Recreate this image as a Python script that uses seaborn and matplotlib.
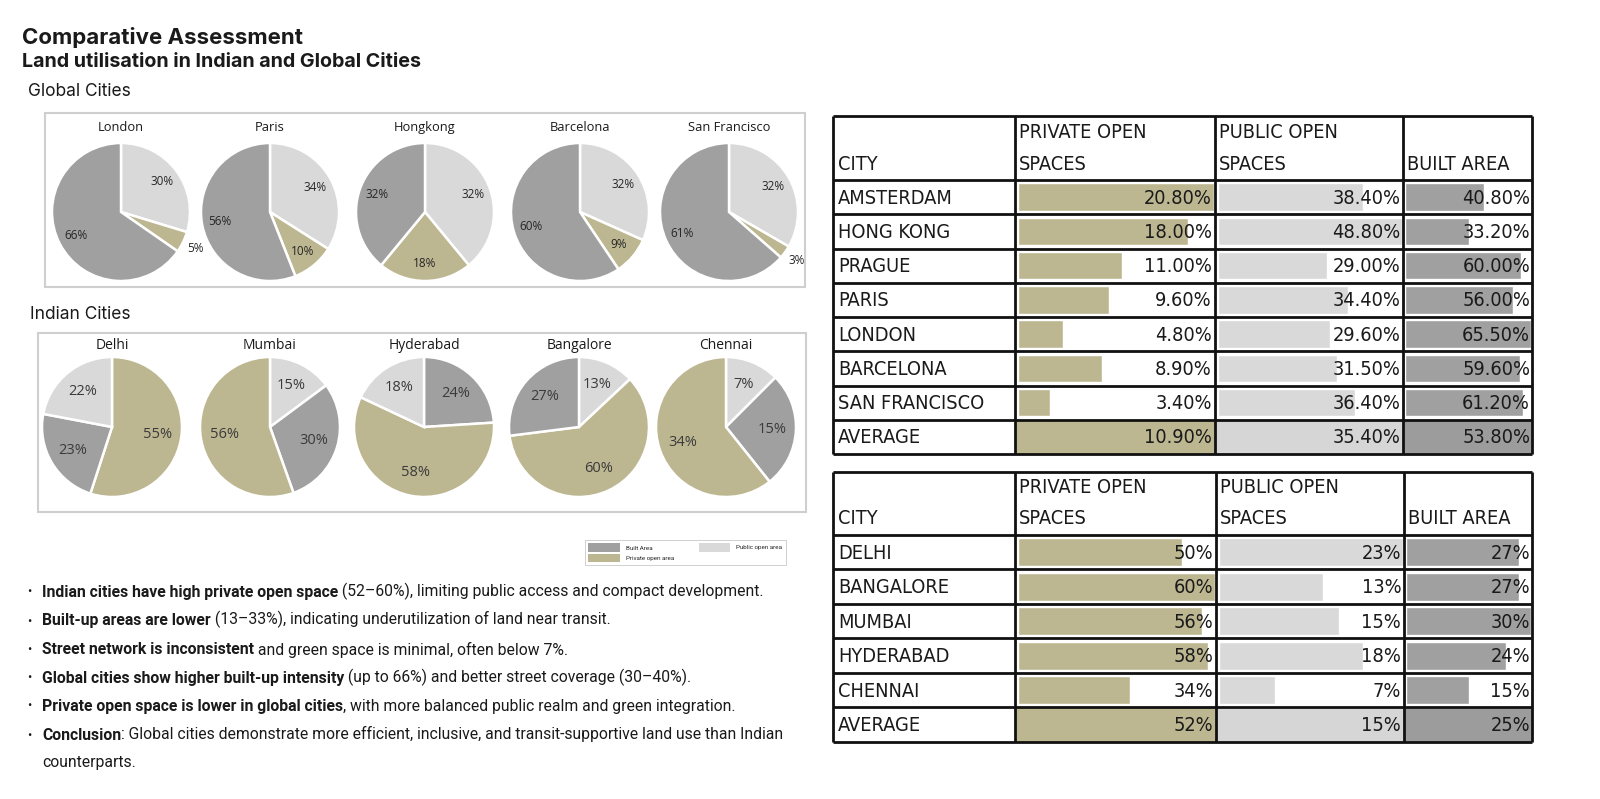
import numpy as np
import pandas as pd
import seaborn as sns
import matplotlib.pyplot as plt
import matplotlib.transforms as mtransforms
from matplotlib import font_manager
from matplotlib.patches import Rectangle, Patch
from matplotlib.text import Annotation

# ---- data ----
global_cities = ['London', 'Paris', 'Hongkong', 'Barcelona', 'San Francisco']
global_built = [66, 56, 32, 60, 61]
global_public = [30, 34, 32, 32, 32]
global_private = [5, 10, 18, 9, 3]

indian_cities = ['Delhi', 'Mumbai', 'Hyderabad', 'Bangalore', 'Chennai']
indian_built = [23, 30, 24, 27, 15]
indian_public = [22, 15, 18, 13, 7]
indian_private = [55, 56, 58, 60, 34]

# wedge order, clockwise from 12 o'clock
global_order = [['public', 'private', 'built']] * 5
indian_order = [['private', 'built', 'public'],
                ['public', 'built', 'private'],
                ['built', 'private', 'public'],
                ['public', 'private', 'built'],
                ['public', 'built', 'private']]

gt_cities = ['AMSTERDAM', 'HONG KONG', 'PRAGUE', 'PARIS', 'LONDON', 'BARCELONA', 'SAN FRANCISCO']
gt_private = [20.8, 18.0, 11.0, 9.6, 4.8, 8.9, 3.4]
gt_public = [38.4, 48.8, 29.0, 34.4, 29.6, 31.5, 36.4]
gt_built = [40.8, 33.2, 60.0, 56.0, 65.5, 59.6, 61.2]
gt_avg = [10.9, 35.4, 53.8]

it_cities = ['DELHI', 'BANGALORE', 'MUMBAI', 'HYDERABAD', 'CHENNAI']
it_private = [50, 60, 56, 58, 34]
it_public = [23, 13, 15, 18, 7]
it_built = [27, 27, 30, 24, 15]
it_avg = [52, 15, 25]

bullets = [
    ('Indian cities have high private open space', ' (52–60%), limiting public access and compact development.'),
    ('Built-up areas are lower', ' (13–33%), indicating underutilization of land near transit.'),
    ('Street network is inconsistent', ' and green space is minimal, often below 7%.'),
    ('Global cities show higher built-up intensity', ' (up to 66%) and better street coverage (30–40%).'),
    ('Private open space is lower in global cities', ', with more balanced public realm and green integration.'),
    ('Conclusion', ': Global cities demonstrate more efficient, inclusive, and transit-supportive land use than Indian'),
]
bullet_tail = 'counterparts.'

COLORS = {'built': '#A0A0A0', 'public': '#D9D9D9', 'private': '#BDB791'}
AVG_COLORS = ['#BDB791', '#D6D6D6', '#9C9C9C']
LABELS = {'built': 'Built Area', 'public': 'Public open area', 'private': 'Private open area'}

W, H = 1600, 799

sns.set_theme(style='white')
plt.rcParams['font.family'] = ['Roboto', 'DejaVu Sans']
HEAD_FONT = ['Inter', 'DejaVu Sans']
PIE_FONT = ['Open Sans', 'DejaVu Sans']

# narrow font for the tables if one is around
installed = {(f.name, f.stretch) for f in font_manager.fontManager.ttflist}
names = {n for n, _ in installed}
if 'Liberation Sans Narrow' in names:
    TABLE_KW = dict(family=['Liberation Sans Narrow'], fontsize=15)
elif ('DejaVu Sans', 'condensed') in installed or 'DejaVu Sans Condensed' in names:
    TABLE_KW = dict(family=['DejaVu Sans'], fontstretch='condensed', fontsize=14.3)
else:
    TABLE_KW = dict(family=['Liberation Sans', 'DejaVu Sans'], fontsize=13)


def rect(x0, y0, x1, y1):
    return [x0 / W, 1 - y1 / H, (x1 - x0) / W, (y1 - y0) / H]


fig = plt.figure(figsize=(16, 7.99), dpi=100)
fig.patch.set_facecolor('white')

fig.text(22 / W, 1 - 37 / H, 'Comparative Assessment', fontsize=16, fontweight='bold',
         va='center', ha='left', color='#1a1a1a', family=HEAD_FONT)
fig.text(22 / W, 1 - 62 / H, 'Land utilisation in Indian and Global Cities', fontsize=14.2,
         fontweight='bold', va='center', ha='left', color='#1a1a1a', family=HEAD_FONT)
fig.text(28 / W, 1 - 91 / H, 'Global Cities', fontsize=12.5, va='center', ha='left',
         color='#1a1a1a', family=HEAD_FONT)
fig.text(30 / W, 1 - 314 / H, 'Indian Cities', fontsize=12.5, va='center', ha='left',
         color='#1a1a1a', family=HEAD_FONT)

# panel frames
for (x0, y0, x1, y1) in [(45, 113, 805, 287), (38, 333, 806, 512)]:
    fig.add_artist(Rectangle((x0 / W, 1 - y1 / H), (x1 - x0) / W, (y1 - y0) / H,
                             transform=fig.transFigure, fill=False, edgecolor='#CFCFCF', lw=1.5))


def draw_pies(cities, built, public, private, orders, centers, cy, r, lab_size, title_size,
              pctd, title_y, lab_color):
    vals = {'built': built, 'public': public, 'private': private}
    for i, city in enumerate(cities):
        cx = centers[i]
        m = 1.4
        ax = fig.add_axes(rect(cx - m * r, cy - m * r, cx + m * r, cy + m * r))
        cats = orders[i]
        data = [vals[c][i] for c in cats]
        total = sum(data)
        wedges, _, autotexts = ax.pie(
            data, colors=[COLORS[c] for c in cats], startangle=90, counterclock=False,
            autopct=lambda p, t=total: '{:.0f}%'.format(p * t / 100), pctdistance=pctd,
            wedgeprops=dict(edgecolor='white', linewidth=1.8),
            textprops=dict(fontsize=lab_size, color=lab_color, family=PIE_FONT))
        for w, t, v in zip(wedges, autotexts, data):
            if v / total < 0.06:
                th = np.deg2rad((w.theta1 + w.theta2) / 2)
                t.set_position((1.2 * np.cos(th), 1.2 * np.sin(th)))
        ax.text(0, title_y, city, ha='center', va='center', fontsize=title_size,
                color='#1a1a1a', family=PIE_FONT)
        ax.set_xlim(-m, m)
        ax.set_ylim(-m, m)
        ax.set_aspect('equal')
        ax.axis('off')


draw_pies(global_cities, global_built, global_public, global_private, global_order,
          [121, 270, 425, 580, 729], 212, 69, 8.5, 9.3, 0.74, 1.22, '#262626')
draw_pies(indian_cities, indian_built, indian_public, indian_private, indian_order,
          [112, 270, 424, 579, 726], 427, 70, 10.5, 10, 0.66, 1.17, '#3a3a3a')

# legend
handles = [Patch(facecolor=COLORS[k], edgecolor='none') for k in ['built', 'private', 'public']]
leg = fig.legend(handles, [LABELS[k] for k in ['built', 'private', 'public']],
                 loc='upper left', bbox_to_anchor=(582 / W, 1 - 537 / H), ncol=2, fontsize=4.5,
                 frameon=True, fancybox=False, edgecolor='#BBBBBB', handlelength=5,
                 handleheight=1.7, columnspacing=4, borderpad=0.5, labelspacing=0.3,
                 handletextpad=1.0)
leg.get_frame().set_linewidth(0.6)

# bullets: bold lead-in, then regular text placed right after it
bl_y = [592, 621, 650, 678, 706, 735]
for (bold, rest), y in zip(bullets, bl_y):
    fig.text(27 / W, 1 - y / H, '•', fontsize=9, va='center', ha='left', color='#1a1a1a')
    tb = fig.text(42 / W, 1 - y / H, bold, fontsize=11.3, fontweight='bold', va='center',
                  ha='left', color='#1a1a1a')
    fig.add_artist(Annotation(rest, xy=(1, 0), xycoords=tb, va='bottom', ha='left',
                              fontsize=11.3, color='#1a1a1a'))
fig.text(42 / W, 1 - 763 / H, bullet_tail, fontsize=11.3, va='center', ha='left', color='#1a1a1a')


def draw_table(top, header_bottom, bottom, col_edges, cities, cols, avg, fmt):
    n = len(cities)
    heads = ['PRIVATE OPEN\nSPACES', 'PUBLIC OPEN\nSPACES', 'BUILT AREA']
    keys = ['private', 'public', 'built']
    df = pd.DataFrame({'city': cities, 'private': cols[0], 'public': cols[1], 'built': cols[2]})
    for j, key in enumerate(keys):
        x0, x1 = col_edges[j + 1], col_edges[j + 2]
        ax = fig.add_axes(rect(x0, header_bottom, x1, bottom))
        sns.barplot(data=df, x=key, y='city', orient='h', color=COLORS[key], saturation=1,
                    width=0.8, ax=ax)
        mx = df[key].max()
        ax.set_xlim(-0.016 * mx, mx * 1.005)
        ax.set_ylim(n + 0.5, -0.5)
        ax.axhspan(n - 0.5, n + 0.5, color=AVG_COLORS[j], zorder=0)
        tr = mtransforms.blended_transform_factory(ax.transAxes, ax.transData)
        for i, v in enumerate(list(df[key]) + [avg[j]]):
            ax.text(0.985, i + 0.03, fmt.format(v), transform=tr, ha='right', va='center',
                    color='#1a1a1a', **TABLE_KW)
        ax.axis('off')

    x0, x1 = col_edges[0], col_edges[-1]
    ov = fig.add_axes(rect(x0, top, x1, bottom))
    ov.set_xlim(x0, x1)
    ov.set_ylim(bottom, top)
    row_h = (bottom - header_bottom) / (n + 1)
    row_edges = [top, header_bottom] + [header_bottom + row_h * (k + 1) for k in range(n + 1)]
    ov.hlines(row_edges, x0, x1, color='#111111', lw=2, clip_on=False)
    ov.vlines(col_edges, top, bottom, color='#111111', lw=2, clip_on=False)
    hy2 = header_bottom - 16
    hy1 = header_bottom - 47
    ov.text(col_edges[0] + 5, hy2, 'CITY', ha='left', va='center', color='#1a1a1a', **TABLE_KW)
    for j, name in enumerate(heads):
        parts = name.split('\n')
        if len(parts) == 2:
            ov.text(col_edges[j + 1] + 4, hy1, parts[0], ha='left', va='center',
                    color='#1a1a1a', **TABLE_KW)
        ov.text(col_edges[j + 1] + 4, hy2, parts[-1], ha='left', va='center',
                color='#1a1a1a', **TABLE_KW)
    for i, c in enumerate(cities + ['AVERAGE']):
        ov.text(col_edges[0] + 5, header_bottom + row_h * (i + 0.53), c, ha='left', va='center',
                color='#1a1a1a', **TABLE_KW)
    ov.axis('off')


draw_table(116, 180, 454, [833, 1015, 1215, 1403, 1532], gt_cities,
           [gt_private, gt_public, gt_built], gt_avg, '{:.2f}%')
draw_table(472, 535, 742, [833, 1015, 1216, 1404, 1532], it_cities,
           [it_private, it_public, it_built], it_avg, '{:.0f}%')

fig.savefig('out.png', dpi=100, facecolor='white')
